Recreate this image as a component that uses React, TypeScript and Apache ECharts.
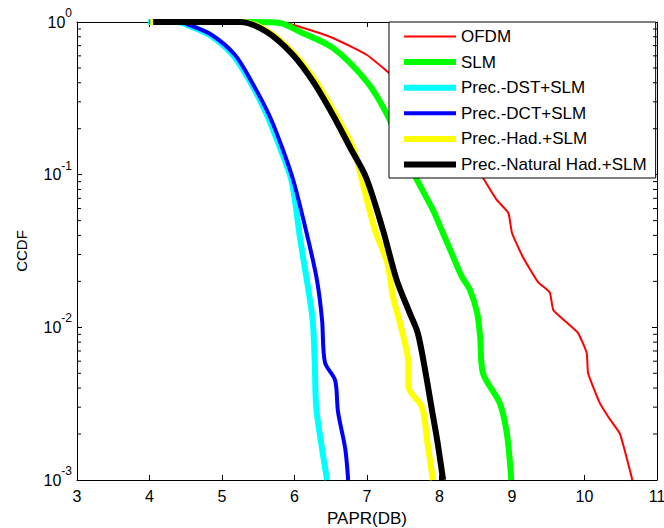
import React, { useEffect, useRef } from "react";
import * as echarts from "echarts";

const FONT = "'Liberation Sans', Arial, Helvetica, sans-serif";

const seriesNames = [
  "OFDM",
  "SLM",
  "Prec.-DST+SLM",
  "Prec.-DCT+SLM",
  "Prec.-Had.+SLM",
  "Prec.-Natural Had.+SLM",
];
const seriesColors = ["#ff0000", "#00ff00", "#00ffff", "#0000ff", "#ffff00", "#000000"];
const seriesWidths = [2, 6, 6, 4, 6, 6];
const seriesSmooth = [0.15, 0.3, 0.3, 0.3, 0.3, 0.3];

// [PAPR (dB), CCDF]
const ofdm: [number, number][] = [
  [5.11, 1], [5.8, 1], [6.08, 0.927], [6.53, 0.786], [7.0, 0.608], [7.29, 0.47],
  [7.66, 0.333], [8.08, 0.196], [8.42, 0.121], [8.6, 0.0951], [8.79, 0.0683],
  [8.95, 0.0561], [9.0, 0.0415], [9.15, 0.0289], [9.36, 0.0198], [9.52, 0.017],
  [9.57, 0.013], [9.76, 0.0107], [9.91, 0.0092], [10.03, 0.0068], [10.05, 0.005],
  [10.21, 0.0032], [10.35, 0.0025], [10.49, 0.002], [10.66, 0.001],
];
const slm: [number, number][] = [
  [4.7, 1], [5.39, 1], [5.8, 0.985], [6.08, 0.86], [6.53, 0.676], [7.0, 0.405],
  [7.28, 0.246], [7.52, 0.1345], [7.69, 0.0923], [7.91, 0.0587], [8.03, 0.0434],
  [8.19, 0.0289], [8.31, 0.0214], [8.42, 0.0176], [8.52, 0.0124], [8.56, 0.0087],
  [8.6, 0.005], [8.83, 0.0032], [8.93, 0.002], [8.99, 0.001],
];
const dst: [number, number][] = [
  [3.98, 1], [4.38, 1], [4.52, 0.956], [4.83, 0.822], [5.15, 0.608], [5.39, 0.405],
  [5.62, 0.246], [5.8, 0.15], [5.96, 0.091], [6.08, 0.0373], [6.17, 0.0204],
  [6.25, 0.0112], [6.28, 0.0058], [6.3, 0.003], [6.38, 0.0016], [6.45, 0.001],
];
const dct: [number, number][] = [
  [4.0, 1], [4.42, 1], [4.55, 0.956], [4.86, 0.822], [5.18, 0.608], [5.41, 0.405],
  [5.65, 0.246], [5.83, 0.15], [5.99, 0.0895], [6.19, 0.0373], [6.31, 0.0204],
  [6.38, 0.0112], [6.42, 0.0059], [6.56, 0.0045], [6.6, 0.0028], [6.7, 0.0016],
  [6.74, 0.001],
];
const had: [number, number][] = [
  [4.01, 1], [5.28, 1], [5.65, 0.86], [6.01, 0.608], [6.3, 0.405], [6.57, 0.246],
  [6.81, 0.15], [6.93, 0.0923], [7.11, 0.0434], [7.28, 0.0264], [7.36, 0.0158],
  [7.48, 0.0096], [7.57, 0.0058], [7.57, 0.0041], [7.76, 0.003], [7.83, 0.0018],
  [7.91, 0.001],
];
const naturalHad: [number, number][] = [
  [4.05, 1], [5.25, 1], [5.62, 0.86], [5.98, 0.608], [6.26, 0.405], [6.53, 0.246],
  [6.77, 0.15], [6.99, 0.0951], [7.22, 0.0434], [7.41, 0.0204], [7.59, 0.0124],
  [7.7, 0.0092], [7.8, 0.0053], [7.9, 0.0028], [7.97, 0.0018], [8.05, 0.001],
];
const seriesData = [ofdm, slm, dst, dct, had, naturalHad];

const xMin = 3;
const xMax = 11;
const yMin = 0.001;
const yMax = 1;
const minorTickValues = [
  0.002, 0.003, 0.004, 0.005, 0.006, 0.007, 0.008, 0.009,
  0.02, 0.03, 0.04, 0.05, 0.06, 0.07, 0.08, 0.09,
  0.2, 0.3, 0.4, 0.5, 0.6, 0.7, 0.8, 0.9,
];

export default function App() {
  const ref = useRef<HTMLDivElement>(null);
  useEffect(() => {
    document.body.style.margin = "0";
    const chart = echarts.init(ref.current as HTMLDivElement, null, { renderer: "svg" });
    const axisLine = { show: true, lineStyle: { color: "#000", width: 1 } };
    const tick = { show: true, inside: true, length: 5, lineStyle: { color: "#000", width: 1 } };
    const option: any = {
      animation: false,
      backgroundColor: "#fff",
      grid: { left: 77, right: 7, top: 22, bottom: 48, containLabel: false, outerBoundsMode: "none" },
      legend: {
        data: seriesNames,
        orient: "vertical",
        left: 389,
        top: 22,
        backgroundColor: "#fff",
        borderColor: "#000",
        borderWidth: 1,
        borderRadius: 0,
        padding: [6, 9, 5, 12],
        itemWidth: 52,
        itemHeight: 14,
        itemGap: 8.6,
        itemTextGap: 6,
        selectedMode: false,
        itemStyle: { opacity: 0, borderWidth: 0 },
        lineStyle: { width: "inherit", opacity: 1 },
        textStyle: { fontSize: 17, color: "#000", fontFamily: FONT },
      },
      xAxis: [
        {
          type: "value",
          min: xMin,
          max: xMax,
          interval: 1,
          position: "bottom",
          axisLine,
          axisTick: tick,
          splitLine: { show: false },
          axisLabel: { fontSize: 16, color: "#000", fontFamily: FONT, margin: 8 },
          name: "PAPR(DB)",
          nameLocation: "middle",
          nameGap: 30,
          nameTextStyle: { fontSize: 17, color: "#000", fontFamily: FONT },
        },
        {
          type: "value",
          min: xMin,
          max: xMax,
          interval: 1,
          position: "top",
          axisLine,
          axisTick: tick,
          splitLine: { show: false },
          axisLabel: { show: false },
        },
      ],
      yAxis: [
        {
          type: "log",
          logBase: 10,
          min: yMin,
          max: yMax,
          position: "left",
          axisLine,
          axisTick: tick,
          splitLine: { show: false },
          minorTick: { show: false },
          axisLabel: {
            margin: 5,
            formatter: (v: number) => `{b|10}{s|${Math.round(Math.log10(v))}}`,
            rich: {
              b: { fontSize: 16, color: "#000", fontFamily: FONT },
              s: { fontSize: 12, color: "#000", fontFamily: FONT, padding: [0, 0, 18, 0] },
            },
          },
          name: "CCDF",
          nameLocation: "middle",
          nameGap: 48,
          nameTextStyle: { fontSize: 15, color: "#000", fontFamily: FONT },
        },
        {
          type: "log",
          logBase: 10,
          min: yMin,
          max: yMax,
          position: "right",
          axisLine,
          axisTick: tick,
          splitLine: { show: false },
          axisLabel: { show: false },
        },
      ],
      series: [
        ...seriesNames.map((name, i) => ({
          name,
          type: "line",
          xAxisIndex: 0,
          yAxisIndex: 0,
          data: seriesData[i],
          symbol: "none",
          showSymbol: false,
          smooth: seriesSmooth[i],
          clip: true,
          color: seriesColors[i],
          lineStyle: { color: seriesColors[i], width: seriesWidths[i] },
          itemStyle: { color: seriesColors[i] },
          emphasis: { disabled: true },
        })),
        {
          type: "custom",
          xAxisIndex: 0,
          yAxisIndex: 0,
          silent: true,
          clip: false,
          z: 5,
          data: minorTickValues.map((v) => [xMin, v]),
          renderItem: (_p: any, api: any) => {
            const v = api.value(1);
            const l = api.coord([xMin, v]);
            const r = api.coord([xMax, v]);
            const st = { stroke: "#000", lineWidth: 1 };
            return {
              type: "group",
              children: [
                { type: "line", shape: { x1: l[0], y1: l[1], x2: l[0] + 4, y2: l[1] }, style: st },
                { type: "line", shape: { x1: r[0] - 4, y1: r[1], x2: r[0], y2: r[1] }, style: st },
              ],
            };
          },
        },
      ],
    };
    chart.setOption(option);
    return () => chart.dispose();
  }, []);
  return <div ref={ref} style={{ width: 664, height: 528 }} />;
}
